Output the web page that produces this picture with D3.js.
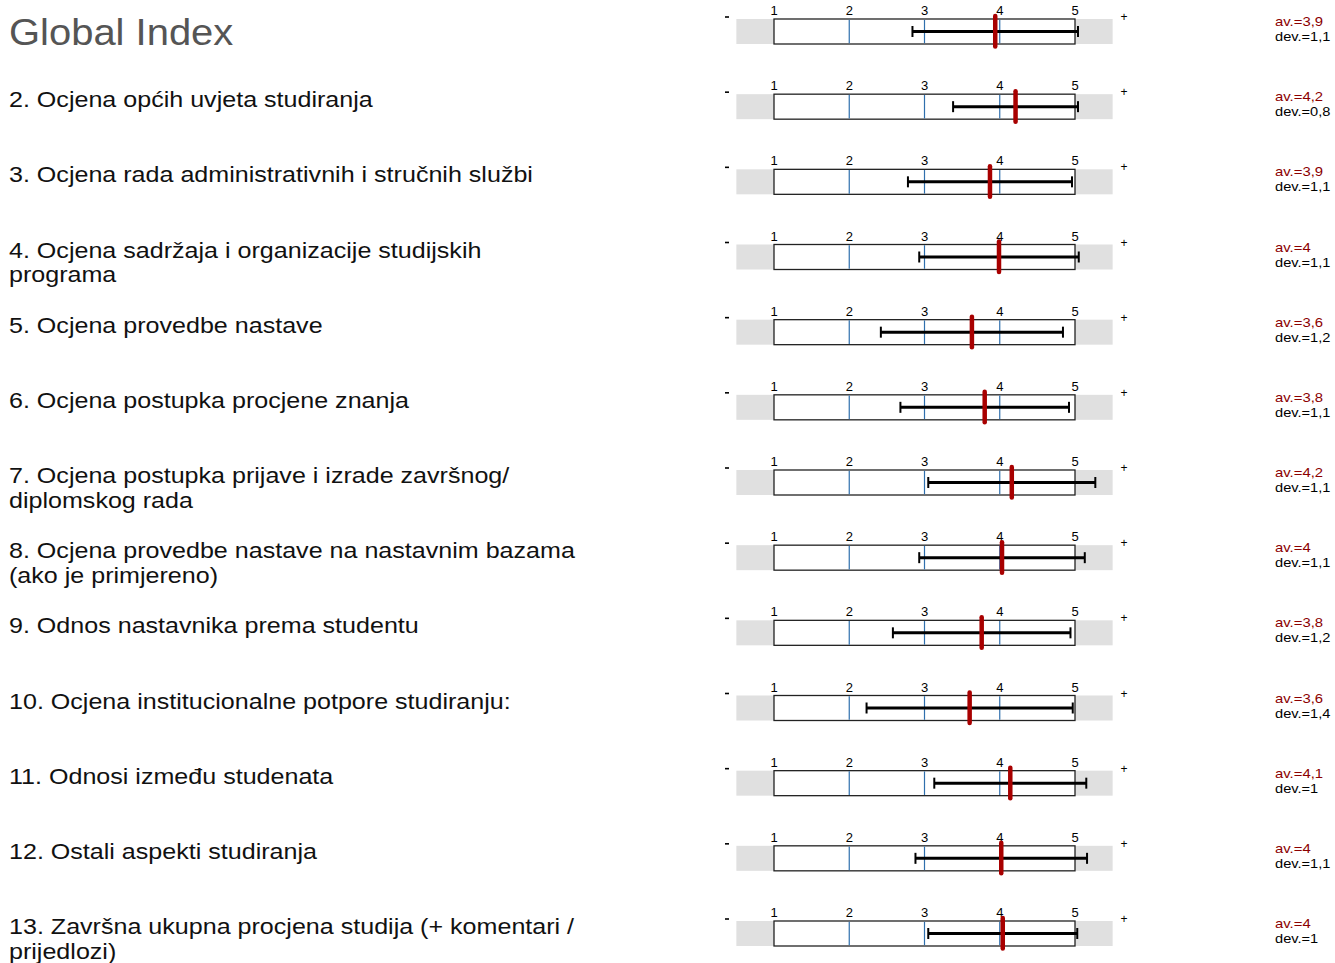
<!DOCTYPE html>
<html>
<head>
<meta charset="utf-8">
<script src="https://cdn.jsdelivr.net/npm/d3@7"></script>
<style>
  body { margin: 0; background: #fff; }
  svg { font-family: "Liberation Sans", Arial, sans-serif; }
</style>
</head>
<body>
<div id="chart"></div>
<script>
const title = "Global Index";

const questions = [
    "",
    "2. Ocjena općih uvjeta studiranja",
    "3. Ocjena rada administrativnih i stručnih službi",
    "4. Ocjena sadržaja i organizacije studijskih|programa",
    "5. Ocjena provedbe nastave",
    "6. Ocjena postupka procjene znanja",
    "7. Ocjena postupka prijave i izrade završnog/|diplomskog rada",
    "8. Ocjena provedbe nastave na nastavnim bazama|(ako je primjereno)",
    "9. Odnos nastavnika prema studentu",
    "10. Ocjena institucionalne potpore studiranju:",
    "11. Odnosi između studenata",
    "12. Ostali aspekti studiranja",
    "13. Završna ukupna procjena studija (+ komentari /|prijedlozi)"
];

// mean and standard deviation per row (row 0 = global index)
const means = [3.94, 4.21, 3.87, 3.99, 3.63, 3.80, 4.16, 4.03, 3.76, 3.60, 4.14, 4.02, 4.04];
const devs  = [1.10, 0.83, 1.09, 1.06, 1.21, 1.12, 1.11, 1.10, 1.18, 1.37, 1.01, 1.14, 0.99];

const ticks = [1, 2, 3, 4, 5];

const width = 1335, height = 963;

const svg = d3.select("#chart")
    .append("svg")
    .attr("width", width)
    .attr("height", height);

const x = d3.scaleLinear().domain([1, 5]).range([774, 1075]);
const y = d3.scaleLinear().domain([0, 12]).range([19, 921]);
const boxH = 25;

const fmt = v => {
    const s = (Math.round(v * 10) / 10).toString();
    return s.replace(".", ",");
};

// title (text in the original is a bit wider than Arial)
svg.append("text")
    .attr("transform", "translate(9,45) scale(1.08,1)")
    .style("font-size", "37px")
    .style("fill", "#555")
    .text(title);

const rows = svg.selectAll(".row")
    .data(means)
    .enter()
    .append("g")
    .attr("class", "row")
    .attr("transform", (d, i) => `translate(0, ${y(i)})`);

// question labels
rows.each(function (d, i) {
    if (!questions[i]) return;
    const lines = questions[i].split("|");
    const t = d3.select(this).append("text")
        .attr("transform", "translate(9,13) scale(1.115,1)")
        .style("font-size", "22.5px")
        .style("fill", "#111");
    lines.forEach((l, k) => {
        t.append("tspan").attr("x", 0).attr("dy", k === 0 ? 0 : 25).text(l);
    });
});

// grey band
rows.append("rect")
    .attr("x", x(0.5))
    .attr("y", 0)
    .attr("width", x(5.5) - x(0.5))
    .attr("height", boxH)
    .style("fill", "#e0e0e0");

// white box
rows.append("rect")
    .attr("x", x(1))
    .attr("y", 0)
    .attr("width", x(5) - x(1))
    .attr("height", boxH)
    .style("fill", "#fff")
    .style("stroke", "#222")
    .style("stroke-width", 1.3);

// blue grid lines
rows.selectAll(".grid")
    .data(ticks.slice(1, 4))
    .enter()
    .append("line")
    .attr("x1", d => x(d))
    .attr("x2", d => x(d))
    .attr("y1", 0.7)
    .attr("y2", boxH - 0.7)
    .style("stroke", "#2f6fad")
    .style("stroke-width", 1.2);

// tick labels
rows.selectAll(".tick")
    .data(ticks)
    .enter()
    .append("text")
    .attr("x", d => x(d))
    .attr("y", -4)
    .attr("text-anchor", "middle")
    .style("font-size", "13px")
    .text(d => d);

// - and +
rows.append("line")
    .attr("x1", 725)
    .attr("x2", 729)
    .attr("y1", -2)
    .attr("y2", -2)
    .style("stroke", "#000")
    .style("stroke-width", 1.6);
rows.append("text")
    .attr("x", 1124)
    .attr("y", 2)
    .attr("text-anchor", "middle")
    .style("font-size", "12px")
    .text("+");

// error bar (mean +/- dev)
const mid = boxH / 2;
rows.append("line")
    .attr("x1", (d, i) => x(d - devs[i]))
    .attr("x2", (d, i) => x(d + devs[i]))
    .attr("y1", mid)
    .attr("y2", mid)
    .style("stroke", "#000")
    .style("stroke-width", 3);
[-1, 1].forEach(s => {
    rows.append("line")
        .attr("x1", (d, i) => x(d + s * devs[i]))
        .attr("x2", (d, i) => x(d + s * devs[i]))
        .attr("y1", mid - 5.5)
        .attr("y2", mid + 5.5)
        .style("stroke", "#000")
        .style("stroke-width", 2);
});

// mean marker
rows.append("line")
    .attr("x1", d => x(d))
    .attr("x2", d => x(d))
    .attr("y1", -3)
    .attr("y2", boxH + 2.5)
    .style("stroke", "#a80000")
    .style("stroke-width", 4.5)
    .style("stroke-linecap", "round");

// av / dev text
rows.append("text")
    .attr("transform", "translate(1275,7) scale(1.19,1)")
    .style("font-size", "12.5px")
    .style("fill", "#8b0000")
    .text(d => "av.=" + fmt(d));
rows.append("text")
    .attr("transform", "translate(1275,22) scale(1.17,1)")
    .style("font-size", "12.5px")
    .style("fill", "#000")
    .text((d, i) => "dev.=" + fmt(devs[i]));
</script>
</body>
</html>
